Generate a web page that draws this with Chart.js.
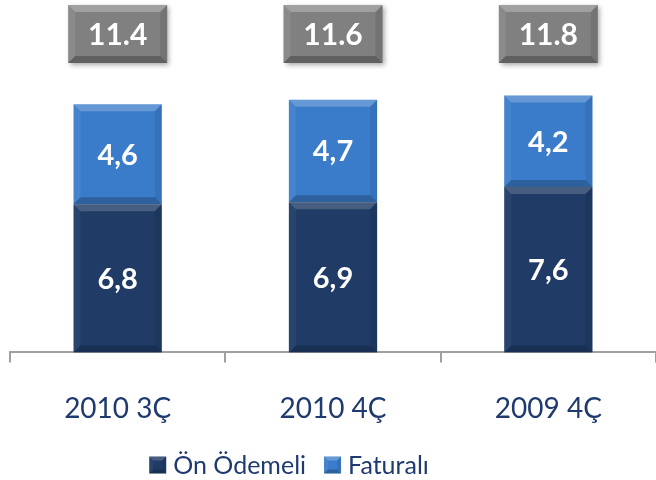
<!DOCTYPE html>
<html><head><meta charset="utf-8">
<script src="https://cdn.jsdelivr.net/npm/chart.js@4.4.1/dist/chart.umd.min.js"></script>
<style>html,body{margin:0;padding:0;background:#fff}#wrap{width:656px;height:480px}</style>
</head><body><div id="wrap"><canvas id="c" width="656" height="480"></canvas></div>
<script>
const categories = ['2010 3Ç', '2010 4Ç', '2009 4Ç'];
const onOdemeli = [6.8, 6.9, 7.6];
const faturali = [4.6, 4.7, 4.2];
const totals = [11.4, 11.6, 11.8];
const seriesNames = ['Ön Ödemeli', 'Faturalı'];
const FONT = 'Lato, "Open Sans", sans-serif';
const TXT = '#1F3A6E';

function shade(ctx, pts, color) {
  ctx.beginPath(); ctx.moveTo(pts[0][0], pts[0][1]);
  for (let i = 1; i < pts.length; i++) ctx.lineTo(pts[i][0], pts[i][1]);
  ctx.closePath(); ctx.fillStyle = color; ctx.fill();
}
function bevel(ctx, l, t, r, b, s, cols) {
  shade(ctx, [[l,t],[r,t],[r-s,t+s],[l+s,t+s]], cols.top);
  shade(ctx, [[l,b],[r,b],[r-s,b-s],[l+s,b-s]], cols.bottom);
  shade(ctx, [[l,t],[l+s,t+s],[l+s,b-s],[l,b]], cols.left);
  shade(ctx, [[r,t],[r-s,t+s],[r-s,b-s],[r,b]], cols.right);
}
const bevelCols = [
  {top:'rgba(255,255,255,0.18)', bottom:'rgba(0,0,0,0.18)', left:'rgba(255,255,255,0.05)', right:'rgba(0,0,0,0.08)'},
  {top:'rgba(255,255,255,0.22)', bottom:'rgba(0,0,0,0.22)', left:'rgba(255,255,255,0.06)', right:'rgba(0,0,0,0.08)'}
];

const decor = {
  id: 'decor',
  afterDatasetsDraw(chart) {
    const ctx = chart.ctx;
    ctx.save();
    chart.data.datasets.forEach((ds, di) => {
      const meta = chart.getDatasetMeta(di);
      meta.data.forEach((bar, i) => {
        const l = bar.x - bar.width / 2, r = bar.x + bar.width / 2;
        const t = Math.min(bar.y, bar.base), b = Math.max(bar.y, bar.base);
        bevel(ctx, l, t, r, b, 7, bevelCols[di]);
        ctx.fillStyle = '#fff';
        ctx.font = 'bold 29px ' + FONT;
        ctx.textAlign = 'center'; ctx.textBaseline = 'middle';
        ctx.fillText(String(ds.data[i]).replace('.', ','), bar.x, (t + b) / 2 + 1);
      });
    });
    // total boxes
    const meta0 = chart.getDatasetMeta(0);
    meta0.data.forEach((bar, i) => {
      const w = 99, h = 58, l = bar.x - w / 2, t = 5;
      ctx.save();
      ctx.shadowColor = 'rgba(0,0,0,0.35)'; ctx.shadowBlur = 5; ctx.shadowOffsetX = 2; ctx.shadowOffsetY = 2;
      ctx.fillStyle = '#808080'; ctx.fillRect(l, t, w, h);
      ctx.restore();
      bevel(ctx, l, t, l + w, t + h, 7, {top:'rgba(255,255,255,0.25)', bottom:'rgba(0,0,0,0.25)', left:'rgba(255,255,255,0.08)', right:'rgba(0,0,0,0.1)'});
      ctx.fillStyle = '#fff';
      ctx.font = 'bold 30px ' + FONT;
      ctx.textAlign = 'center'; ctx.textBaseline = 'middle';
      ctx.fillText(totals[i].toFixed(1), bar.x, t + h / 2 + 1);
    });
    // legend
    ctx.font = '25px ' + FONT;
    ctx.textBaseline = 'middle'; ctx.textAlign = 'left';
    const box = 17, gap = 7, itemGap = 18;
    const widths = seriesNames.map(n => box + gap + ctx.measureText(n).width);
    const total = widths.reduce((a, b) => a + b, 0) + itemGap;
    let x = 289 - total / 2; const y = 465;
    chart.data.datasets.forEach((ds, di) => {
      ctx.fillStyle = ds.backgroundColor;
      ctx.fillRect(x, y - box / 2, box, box);
      bevel(ctx, x, y - box / 2, x + box, y + box / 2, 4, bevelCols[di]);
      ctx.fillStyle = TXT;
      ctx.fillText(seriesNames[di], x + box + gap, y + 1);
      x += widths[di] + itemGap;
    });
    ctx.restore();
  }
};

new Chart(document.getElementById('c'), {
  type: 'bar',
  data: {
    labels: categories,
    datasets: [
      { label: seriesNames[0], data: onOdemeli, backgroundColor: '#1F3B66', barPercentage: 0.41, categoryPercentage: 1 },
      { label: seriesNames[1], data: faturali, backgroundColor: '#3A7CC9', barPercentage: 0.41, categoryPercentage: 1 }
    ]
  },
  options: {
    responsive: false,
    animation: false,
    devicePixelRatio: 1,
    layout: { padding: { left: 10, right: 0, top: 4, bottom: 24 } },
    plugins: { legend: { display: false }, tooltip: { enabled: false } },
    scales: {
      x: {
        stacked: true,
        border: { display: true, color: '#A0A0A0', width: 2 },
        grid: { display: true, drawOnChartArea: false, drawTicks: true, tickLength: 10, color: '#A0A0A0', lineWidth: 2, offset: true },
        ticks: { color: TXT, font: { family: FONT, size: 28 }, padding: 30 }
      },
      y: { stacked: true, display: false, min: 0, max: 16 }
    }
  },
  plugins: [decor]
});
</script></body></html>
